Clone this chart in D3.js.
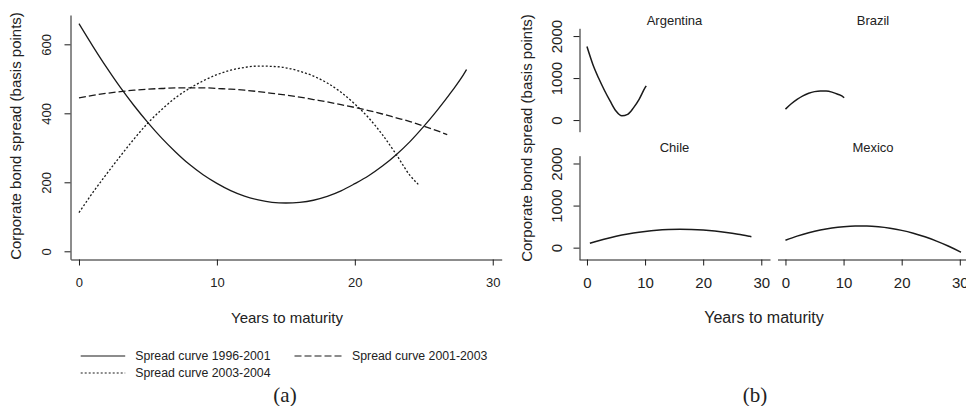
<!DOCTYPE html>
<html>
<head>
<meta charset="utf-8">
<script src="https://cdn.jsdelivr.net/npm/d3@7"></script>
<style>
body { margin: 0; background: #fff; }
svg text { font-family: "Liberation Sans", Arial, Helvetica, sans-serif; fill: #222; }
.curve { fill: none; stroke: #1a1a1a; }
</style>
</head>
<body>
<div id="chart"></div>
<script>
// svg size
var svgWidth = 966;
var svgHeight = 406;

// panel (a): spread curves per period
var years9601 = [0,1,2,3,4,5,6,7,8,9,10,11,12,13,14,15,16,17,18,19,20,21,22,23,24,25,26,27,28,28.1];
var spread9601 = [660,595,533,475,422,373,328,288,252,222,197,176,160,149,142,140,142,148,159,175,196,219,247,280,318,362,410,462,520,527];

var years0103 = [0,1,2,3,4,5,6,7,8,9,10,11,12,13,14,15,16,17,18,19,20,21,22,23,24,25,26,26.7];
var spread0103 = [445,452,458,463,467,470,472,474,474,474,472,470,467,463,458,453,447,440,433,425,417,408,398,387,376,363,349,338];

var years0304 = [0,1,2,3,4,5,6,7,8,9,10,11,12,13,14,15,16,17,18,19,20,21,22,23,24,24.6];
var spread0304 = [112,170,224,276,326,372,411,445,472,494,512,525,533,537,536,532,522,508,488,461,427,387,338,281,220,194];

var periodLabels = ["Spread curve 1996-2001", "Spread curve 2001-2003", "Spread curve 2003-2004"];

// panel (b): one curve per country
var countries = ["Argentina", "Brazil", "Chile", "Mexico"];

var yearsArg = [0,1,2,3,4,5,6,7,8,9,10,10.2];
var spreadArg = [1750,1330,1000,710,450,215,100,135,290,500,770,814];

var yearsBra = [0,1,2,3,4,5,6,7,8,9,10,10.1];
var spreadBra = [261,388,493,577,638,677,695,691,665,616,545,530];

var yearsChi = [0.5,2,4,6,8,10,12,14,16,18,20,22,24,26,28,28.3];
var spreadChi = [104,166,237,298,348,386,414,430,436,431,417,394,362,320,269,261];

var yearsMex = [0,2,4,6,8,10,12,14,16,18,20,22,24,26,28,30,30.2];
var spreadMex = [175,273,353,418,466,498,513,512,495,461,410,342,257,156,40,-95,-110];

var xTicks = [0, 10, 20, 30];
var yTicksA = [0, 200, 400, 600];
var yTicksB = [0, 1000, 2000];

var svg = d3.select("#chart")
    .append("svg")
    .attr("width", svgWidth)
    .attr("height", svgHeight);

function zip(xs, ys) {
    return xs.map((x, i) => [x, ys[i]]);
}

function styleAxis(g, size) {
    g.attr("font-family", null).attr("font-size", null).style("color", "#1a1a1a");
    g.selectAll("text").style("font-size", size + "px");
}

// ---------- panel (a) ----------
var xA = d3.scaleLinear().domain([-0.6, 30.65]).range([70.7, 501.7]);
var yA = d3.scaleLinear().domain([-23.2, 685]).range([259.3, 15]);

var lineA = d3.line()
    .x(d => xA(d[0]))
    .y(d => yA(d[1]))
    .curve(d3.curveMonotoneX);

var gxA = svg.append("g")
    .attr("transform", "translate(0,259.5)")
    .call(d3.axisBottom(xA).tickValues(xTicks).tickSize(6).tickSizeOuter(0));
styleAxis(gxA, 13);
gxA.selectAll("text").attr("y", 27.5).attr("dy", null);

var gyA = svg.append("g")
    .attr("transform", "translate(70.5,0)")
    .call(d3.axisLeft(yA).tickValues(yTicksA).tickSize(6).tickSizeOuter(0));
styleAxis(gyA, 13);
gyA.selectAll("text")
    .attr("x", null).attr("dy", null)
    .attr("text-anchor", "middle")
    .attr("transform", "translate(-20,0) rotate(-90)");

var seriesA = [
    {data: zip(years9601, spread9601), dash: null},
    {data: zip(years0103, spread0103), dash: "7,3"},
    {data: zip(years0304, spread0304), dash: "2,2"}
];

svg.selectAll(".curveA")
    .data(seriesA)
    .enter()
    .append("path")
    .attr("class", "curve")
    .attr("d", d => lineA(d.data))
    .attr("stroke-width", 1.3)
    .attr("stroke-dasharray", d => d.dash);

svg.append("text")
    .attr("transform", "translate(21,136) rotate(-90)")
    .attr("text-anchor", "middle")
    .style("font-size", "15px")
    .text("Corporate bond spread (basis points)");

svg.append("text")
    .attr("x", 287)
    .attr("y", 323)
    .attr("text-anchor", "middle")
    .style("font-size", "15px")
    .text("Years to maturity");

// legend
var legendPos = [[80.7, 356], [294.5, 356], [80.7, 373]];
var legendLen = [44.5, 47.5, 44.5];

svg.selectAll(".legLine")
    .data(seriesA)
    .enter()
    .append("line")
    .attr("class", "curve")
    .attr("x1", (d, i) => legendPos[i][0])
    .attr("x2", (d, i) => legendPos[i][0] + legendLen[i])
    .attr("y1", (d, i) => legendPos[i][1])
    .attr("y2", (d, i) => legendPos[i][1])
    .attr("stroke-width", 1.2)
    .attr("stroke-dasharray", d => d.dash);

svg.selectAll(".legText")
    .data(periodLabels)
    .enter()
    .append("text")
    .attr("x", (d, i) => legendPos[i][0] + legendLen[i] + 10)
    .attr("y", (d, i) => legendPos[i][1] + 4.4)
    .style("font-size", "12.3px")
    .text(d => d);

// ---------- panel (b) ----------
var colRange = [[579, 770], [777.5, 968.5]];
var rowRange = [[131.7, 28.3], [259.3, 155.7]];

var facets = [
    {name: countries[0], data: zip(yearsArg, spreadArg), col: 0, row: 0},
    {name: countries[1], data: zip(yearsBra, spreadBra), col: 1, row: 0},
    {name: countries[2], data: zip(yearsChi, spreadChi), col: 0, row: 1},
    {name: countries[3], data: zip(yearsMex, spreadMex), col: 1, row: 1}
];

facets.forEach(function(f) {
    var x = d3.scaleLinear().domain([-1.37, 31.5]).range(colRange[f.col]);
    var y = d3.scaleLinear().domain([-277, 2185]).range(rowRange[f.row]);

    var line = d3.line()
        .x(d => x(d[0]))
        .y(d => y(d[1]))
        .curve(d3.curveMonotoneX);

    svg.append("path")
        .attr("class", "curve")
        .attr("d", line(f.data))
        .attr("stroke-width", 1.5);

    svg.append("text")
        .attr("x", (colRange[f.col][0] + colRange[f.col][1]) / 2)
        .attr("y", f.row == 0 ? 24.5 : 152)
        .attr("text-anchor", "middle")
        .style("font-size", "13px")
        .text(f.name);

    if (f.row == 1) {
        var gx = svg.append("g")
            .attr("transform", "translate(0,259.5)")
            .call(d3.axisBottom(x).tickValues(xTicks).tickSize(6).tickSizeOuter(0));
        styleAxis(gx, 15);
        gx.selectAll("text").attr("y", 28).attr("dy", null);
    }
    if (f.col == 0) {
        var gy = svg.append("g")
            .attr("transform", "translate(579.5,0)")
            .call(d3.axisLeft(y).tickValues(yTicksB).tickFormat(d3.format("d")).tickSize(6).tickSizeOuter(0));
        styleAxis(gy, 15);
        gy.selectAll("text")
            .attr("x", null).attr("dy", null)
            .attr("text-anchor", "middle")
            .attr("transform", "translate(-17.6,0) rotate(-90)");
    }
});

svg.append("text")
    .attr("transform", "translate(532,138) rotate(-90)")
    .attr("text-anchor", "middle")
    .style("font-size", "15px")
    .text("Corporate bond spread (basis points)");

svg.append("text")
    .attr("x", 764)
    .attr("y", 323)
    .attr("text-anchor", "middle")
    .style("font-size", "16px")
    .text("Years to maturity");

// sub-figure captions
svg.append("text")
    .attr("x", 285)
    .attr("y", 402)
    .attr("text-anchor", "middle")
    .style("font-family", "'Liberation Serif', 'Times New Roman', serif")
    .style("font-size", "21px")
    .text("(a)");

svg.append("text")
    .attr("x", 755)
    .attr("y", 402)
    .attr("text-anchor", "middle")
    .style("font-family", "'Liberation Serif', 'Times New Roman', serif")
    .style("font-size", "21px")
    .text("(b)");
</script>
</body>
</html>
